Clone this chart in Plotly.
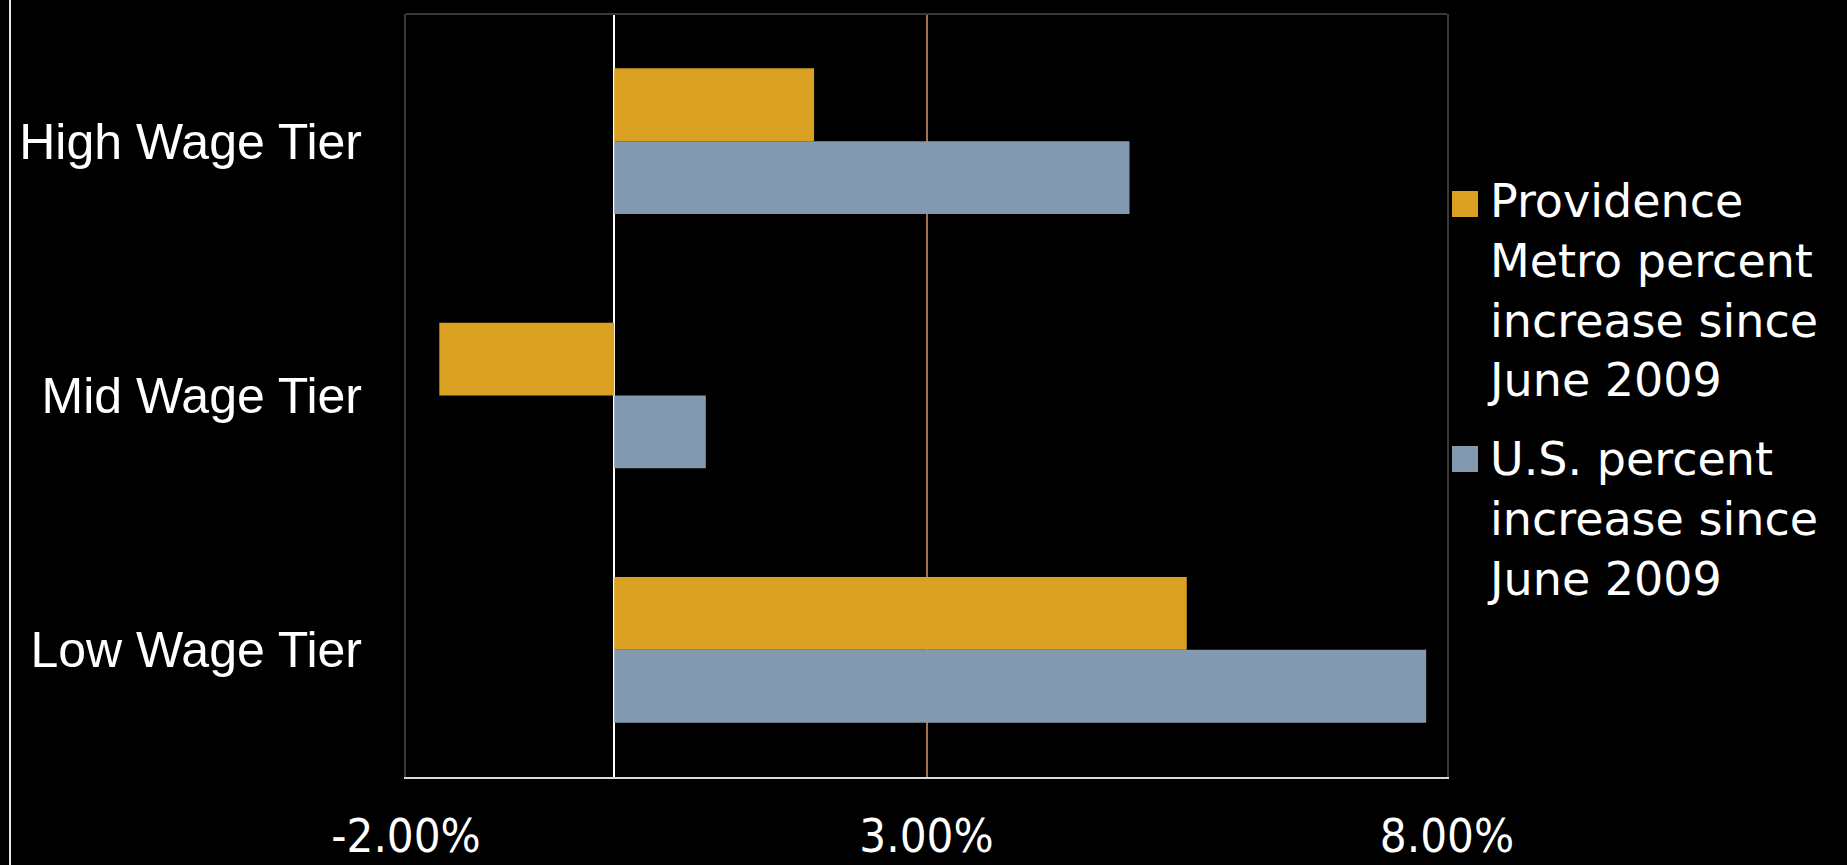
import plotly.graph_objects as go

# ---- data ----
categories = ["High Wage Tier", "Mid Wage Tier", "Low Wage Tier"]
providence = [1.92, -1.68, 5.50]
us = [4.95, 0.88, 7.80]
series_names = ["Providence Metro percent increase since June 2009",
                "U.S. percent increase since June 2009"]
legend_lines = [["Providence", "Metro percent", "increase since", "June 2009"],
                ["U.S. percent", "increase since", "June 2009"]]
tick_values = [-2, 3, 8]
tick_labels = [f"{v:.2f}%" for v in tick_values]

# ---- style ----
W, H = 1847, 865
L, R, T, B = 406, 400, 14, 88
PW, PH = W - L - R, H - T - B
ORANGE = "#DAA021"
BLUE = "#8299B0"


def px_x(x):
    return (x - L) / PW


def px_y(y):
    return (H - B - y) / PH


fig = go.Figure()
fig.add_trace(go.Bar(y=categories, x=providence, orientation="h", name=series_names[0],
                     marker=dict(color=ORANGE, line=dict(width=0)), showlegend=False))
fig.add_trace(go.Bar(y=categories, x=us, orientation="h", name=series_names[1],
                     marker=dict(color=BLUE, line=dict(width=0)), showlegend=False))

shapes = [
    # top border
    dict(type="line", xref="paper", yref="paper", x0=0, x1=1, y0=1, y1=1,
         line=dict(color="#383838", width=2)),
    # white vertical line on far left
    dict(type="line", xref="paper", yref="paper", x0=px_x(10), x1=px_x(10),
         y0=px_y(0), y1=px_y(H), line=dict(color="#e6e6e6", width=2)),
]
annotations = []
swatch_centers = [204, 459]
text_tops = [172, 430]
for i, lines in enumerate(legend_lines):
    c = swatch_centers[i]
    shapes.append(dict(type="rect", xref="paper", yref="paper",
                       x0=px_x(1452), x1=px_x(1478), y0=px_y(c - 13), y1=px_y(c + 13),
                       fillcolor=[ORANGE, BLUE][i], line=dict(width=0)))
    annotations.append(dict(xref="paper", yref="paper", x=px_x(1485), y=px_y(text_tops[i]),
                            xanchor="left", yanchor="top", align="left", showarrow=False,
                            text="<br>".join(lines),
                            font=dict(family="DejaVu Sans", size=46, color="white")))

fig.update_layout(
    width=W, height=H,
    margin=dict(l=L, r=R, t=T, b=B, autoexpand=False),
    paper_bgcolor="#000000", plot_bgcolor="#000000",
    barmode="group", bargap=0.427, bargroupgap=0,
    shapes=shapes, annotations=annotations,
    showlegend=False,
)
fig.update_xaxes(range=[-2, 8], tickvals=tick_values, ticktext=tick_labels,
                 showgrid=True, gridcolor="#A0704F", gridwidth=1.5,
                 zeroline=True, zerolinecolor="#ffffff", zerolinewidth=1.5,
                 showline=True, linecolor="#d9d9d9", linewidth=2,
                 ticks="", ticklabelstandoff=17,
                 tickfont=dict(family="Liberation Sans Narrow, DejaVu Sans Condensed, Arial Narrow, sans-serif",
                               size=47, color="white"))
fig.update_yaxes(autorange="reversed", showgrid=False, zeroline=False,
                 showline=True, mirror=True, linecolor="#383838", linewidth=2,
                 ticks="", ticklabelstandoff=32,
                 tickfont=dict(family="Liberation Sans, Arial, sans-serif", size=50, color="white"))

fig.write_html("out.html")
